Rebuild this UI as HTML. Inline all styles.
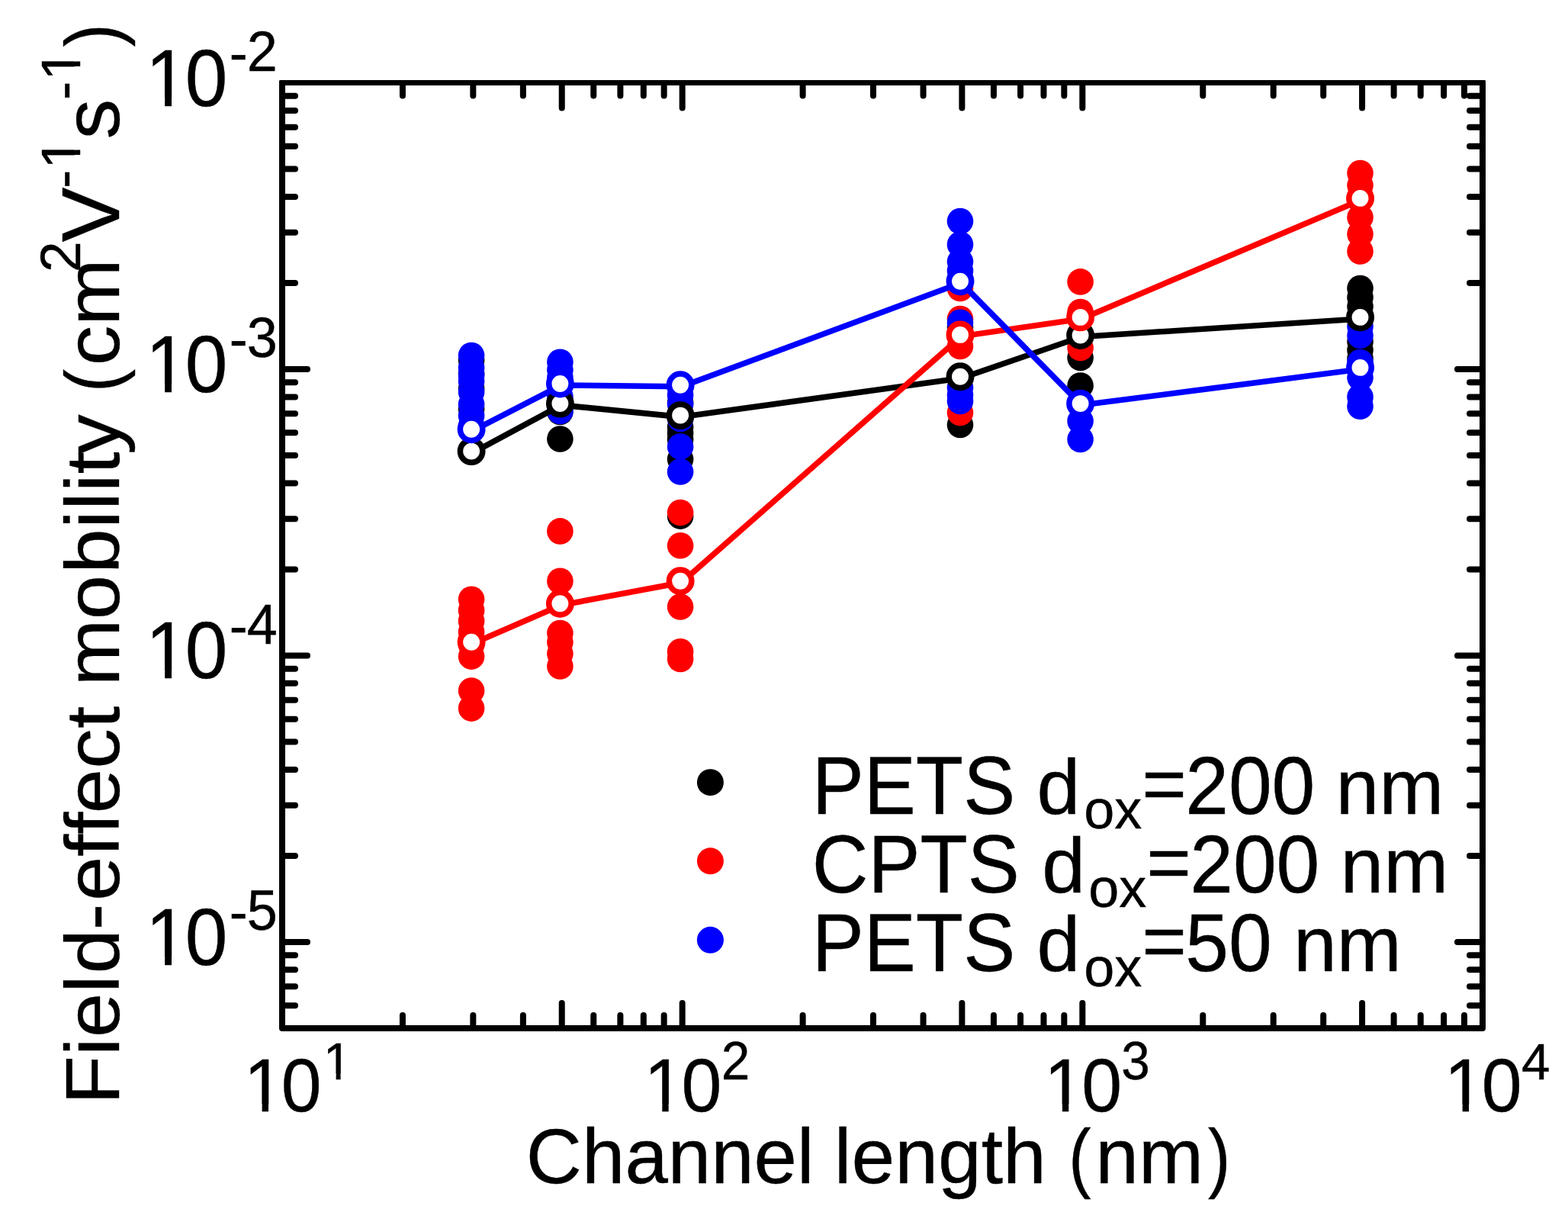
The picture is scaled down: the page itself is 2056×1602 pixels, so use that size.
<!DOCTYPE html>
<html lang="en"><head><meta charset="utf-8"><title>Field-effect mobility vs channel length</title>
<style>html,body{margin:0;padding:0;background:#fff;}svg{display:block;}text{font-family:"Liberation Sans", sans-serif;fill:#000;stroke:#000;stroke-width:0.4px;font-kerning:none;white-space:pre;}</style></head><body>
<svg width="2056" height="1602" viewBox="0 0 2056 1602" role="img" aria-label="Field-effect mobility versus channel length">
<rect x="0" y="0" width="2056" height="1602" fill="#ffffff"/>
<g stroke="#000" stroke-width="8.00" stroke-linecap="round" fill="none">
<path d="M736.73 112.50V141.50 M736.73 1344.00V1315.00"/>
<path d="M894.67 112.50V141.50 M894.67 1344.00V1315.00"/>
<path d="M1261.39 112.50V141.50 M1261.39 1344.00V1315.00"/>
<path d="M1419.33 112.50V141.50 M1419.33 1344.00V1315.00"/>
<path d="M1786.06 112.50V141.50 M1786.06 1344.00V1315.00"/>
<path d="M527.94 112.50V125.50 M527.94 1344.00V1331.00"/>
<path d="M620.33 112.50V125.50 M620.33 1344.00V1331.00"/>
<path d="M685.88 112.50V125.50 M685.88 1344.00V1331.00"/>
<path d="M778.27 112.50V125.50 M778.27 1344.00V1331.00"/>
<path d="M813.39 112.50V125.50 M813.39 1344.00V1331.00"/>
<path d="M843.82 112.50V125.50 M843.82 1344.00V1331.00"/>
<path d="M870.66 112.50V125.50 M870.66 1344.00V1331.00"/>
<path d="M1052.61 112.50V125.50 M1052.61 1344.00V1331.00"/>
<path d="M1145.00 112.50V125.50 M1145.00 1344.00V1331.00"/>
<path d="M1210.55 112.50V125.50 M1210.55 1344.00V1331.00"/>
<path d="M1302.94 112.50V125.50 M1302.94 1344.00V1331.00"/>
<path d="M1338.06 112.50V125.50 M1338.06 1344.00V1331.00"/>
<path d="M1368.49 112.50V125.50 M1368.49 1344.00V1331.00"/>
<path d="M1395.33 112.50V125.50 M1395.33 1344.00V1331.00"/>
<path d="M1577.27 112.50V125.50 M1577.27 1344.00V1331.00"/>
<path d="M1669.66 112.50V125.50 M1669.66 1344.00V1331.00"/>
<path d="M1735.21 112.50V125.50 M1735.21 1344.00V1331.00"/>
<path d="M1827.60 112.50V125.50 M1827.60 1344.00V1331.00"/>
<path d="M1862.73 112.50V125.50 M1862.73 1344.00V1331.00"/>
<path d="M1893.15 112.50V125.50 M1893.15 1344.00V1331.00"/>
<path d="M1919.99 112.50V125.50 M1919.99 1344.00V1331.00"/>
<path d="M374.00 483.99H403.00 M1940.00 483.99H1911.00"/>
<path d="M374.00 859.48H403.00 M1940.00 859.48H1911.00"/>
<path d="M374.00 1234.97H403.00 M1940.00 1234.97H1911.00"/>
<path d="M374.00 370.96H387.00 M1940.00 370.96H1927.00"/>
<path d="M374.00 304.84H387.00 M1940.00 304.84H1927.00"/>
<path d="M374.00 257.92H387.00 M1940.00 257.92H1927.00"/>
<path d="M374.00 221.53H387.00 M1940.00 221.53H1927.00"/>
<path d="M374.00 191.80H387.00 M1940.00 191.80H1927.00"/>
<path d="M374.00 166.66H387.00 M1940.00 166.66H1927.00"/>
<path d="M374.00 144.89H387.00 M1940.00 144.89H1927.00"/>
<path d="M374.00 125.68H387.00 M1940.00 125.68H1927.00"/>
<path d="M374.00 746.44H387.00 M1940.00 746.44H1927.00"/>
<path d="M374.00 680.32H387.00 M1940.00 680.32H1927.00"/>
<path d="M374.00 633.41H387.00 M1940.00 633.41H1927.00"/>
<path d="M374.00 597.02H387.00 M1940.00 597.02H1927.00"/>
<path d="M374.00 567.29H387.00 M1940.00 567.29H1927.00"/>
<path d="M374.00 542.15H387.00 M1940.00 542.15H1927.00"/>
<path d="M374.00 520.38H387.00 M1940.00 520.38H1927.00"/>
<path d="M374.00 501.17H387.00 M1940.00 501.17H1927.00"/>
<path d="M374.00 1121.93H387.00 M1940.00 1121.93H1927.00"/>
<path d="M374.00 1055.81H387.00 M1940.00 1055.81H1927.00"/>
<path d="M374.00 1008.90H387.00 M1940.00 1008.90H1927.00"/>
<path d="M374.00 972.51H387.00 M1940.00 972.51H1927.00"/>
<path d="M374.00 942.78H387.00 M1940.00 942.78H1927.00"/>
<path d="M374.00 917.64H387.00 M1940.00 917.64H1927.00"/>
<path d="M374.00 895.87H387.00 M1940.00 895.87H1927.00"/>
<path d="M374.00 876.66H387.00 M1940.00 876.66H1927.00"/>
<path d="M374.00 1318.27H387.00 M1940.00 1318.27H1927.00"/>
<path d="M374.00 1293.13H387.00 M1940.00 1293.13H1927.00"/>
<path d="M374.00 1271.36H387.00 M1940.00 1271.36H1927.00"/>
<path d="M374.00 1252.15H387.00 M1940.00 1252.15H1927.00"/>
</g>
<path d="M370.00 106.00V1348.00H1944.00V106.00" fill="none" stroke="#000" stroke-width="8" stroke-linejoin="round"/>
<path d="M366.50 108.5H1947.50" fill="none" stroke="#000" stroke-width="7"/>
<g fill="#000000">
<circle cx="618.1" cy="472.0" r="17.3"/>
<circle cx="618.1" cy="490.0" r="17.3"/>
<circle cx="618.1" cy="510.0" r="17.3"/>
<circle cx="618.1" cy="536.0" r="17.3"/>
<circle cx="734.4" cy="540.0" r="17.3"/>
<circle cx="734.4" cy="575.5" r="17.3"/>
<circle cx="892.1" cy="528.0" r="17.3"/>
<circle cx="892.1" cy="560.0" r="17.3"/>
<circle cx="892.1" cy="568.0" r="17.3"/>
<circle cx="892.1" cy="576.0" r="17.3"/>
<circle cx="892.1" cy="602.0" r="17.3"/>
<circle cx="892.1" cy="676.6" r="17.3"/>
<circle cx="1259.0" cy="428.7" r="17.3"/>
<circle cx="1259.0" cy="557.0" r="17.3"/>
<circle cx="1416.6" cy="440.0" r="17.3"/>
<circle cx="1416.6" cy="469.0" r="17.3"/>
<circle cx="1416.6" cy="505.5" r="17.3"/>
<circle cx="1783.5" cy="378.0" r="17.3"/>
<circle cx="1783.5" cy="390.0" r="17.3"/>
<circle cx="1783.5" cy="402.0" r="17.3"/>
<circle cx="1783.5" cy="414.0" r="17.3"/>
<circle cx="1783.5" cy="448.0" r="17.3"/>
<circle cx="1783.5" cy="459.0" r="17.3"/>
<circle cx="1783.5" cy="470.0" r="17.3"/>
</g>
<g fill="#ff0000">
<circle cx="618.1" cy="785.7" r="17.3"/>
<circle cx="618.1" cy="800.2" r="17.3"/>
<circle cx="618.1" cy="814.2" r="17.3"/>
<circle cx="618.1" cy="828.4" r="17.3"/>
<circle cx="618.1" cy="845.0" r="17.3"/>
<circle cx="618.1" cy="860.6" r="17.3"/>
<circle cx="618.1" cy="905.5" r="17.3"/>
<circle cx="618.1" cy="928.6" r="17.3"/>
<circle cx="734.4" cy="696.4" r="17.3"/>
<circle cx="734.4" cy="761.8" r="17.3"/>
<circle cx="734.4" cy="830.0" r="17.3"/>
<circle cx="734.4" cy="842.0" r="17.3"/>
<circle cx="734.4" cy="857.0" r="17.3"/>
<circle cx="734.4" cy="873.4" r="17.3"/>
<circle cx="892.1" cy="672.0" r="17.3"/>
<circle cx="892.1" cy="715.3" r="17.3"/>
<circle cx="892.1" cy="795.5" r="17.3"/>
<circle cx="892.1" cy="854.2" r="17.3"/>
<circle cx="892.1" cy="864.0" r="17.3"/>
<circle cx="1259.0" cy="378.0" r="17.3"/>
<circle cx="1259.0" cy="418.0" r="17.3"/>
<circle cx="1259.0" cy="454.0" r="17.3"/>
<circle cx="1259.0" cy="541.0" r="17.3"/>
<circle cx="1416.6" cy="369.4" r="17.3"/>
<circle cx="1416.6" cy="409.0" r="17.3"/>
<circle cx="1416.6" cy="456.0" r="17.3"/>
<circle cx="1783.5" cy="227.0" r="17.3"/>
<circle cx="1783.5" cy="243.0" r="17.3"/>
<circle cx="1783.5" cy="260.0" r="17.3"/>
<circle cx="1783.5" cy="284.9" r="17.3"/>
<circle cx="1783.5" cy="306.8" r="17.3"/>
<circle cx="1783.5" cy="329.5" r="17.3"/>
</g>
<g fill="#0000ff">
<circle cx="618.1" cy="466.0" r="17.3"/>
<circle cx="618.1" cy="482.0" r="17.3"/>
<circle cx="618.1" cy="492.0" r="17.3"/>
<circle cx="618.1" cy="500.0" r="17.3"/>
<circle cx="618.1" cy="514.0" r="17.3"/>
<circle cx="618.1" cy="530.0" r="17.3"/>
<circle cx="618.1" cy="545.0" r="17.3"/>
<circle cx="618.1" cy="558.0" r="17.3"/>
<circle cx="734.4" cy="474.7" r="17.3"/>
<circle cx="734.4" cy="485.0" r="17.3"/>
<circle cx="734.4" cy="495.0" r="17.3"/>
<circle cx="734.4" cy="505.0" r="17.3"/>
<circle cx="734.4" cy="520.0" r="17.3"/>
<circle cx="734.4" cy="539.0" r="17.3"/>
<circle cx="892.1" cy="518.0" r="17.3"/>
<circle cx="892.1" cy="530.0" r="17.3"/>
<circle cx="892.1" cy="549.0" r="17.3"/>
<circle cx="892.1" cy="585.5" r="17.3"/>
<circle cx="892.1" cy="618.5" r="17.3"/>
<circle cx="1259.0" cy="290.0" r="17.3"/>
<circle cx="1259.0" cy="320.6" r="17.3"/>
<circle cx="1259.0" cy="343.0" r="17.3"/>
<circle cx="1259.0" cy="355.0" r="17.3"/>
<circle cx="1259.0" cy="366.0" r="17.3"/>
<circle cx="1259.0" cy="422.8" r="17.3"/>
<circle cx="1259.0" cy="508.0" r="17.3"/>
<circle cx="1259.0" cy="518.0" r="17.3"/>
<circle cx="1259.0" cy="526.0" r="17.3"/>
<circle cx="1416.6" cy="552.0" r="17.3"/>
<circle cx="1416.6" cy="576.0" r="17.3"/>
<circle cx="1783.5" cy="428.0" r="17.3"/>
<circle cx="1783.5" cy="439.8" r="17.3"/>
<circle cx="1783.5" cy="475.0" r="17.3"/>
<circle cx="1783.5" cy="494.9" r="17.3"/>
<circle cx="1783.5" cy="520.4" r="17.3"/>
<circle cx="1783.5" cy="532.7" r="17.3"/>
</g>
<polyline points="619.6,593.6 735.9,531.1 893.6,546.6 1260.5,495.8 1418.1,441.5 1785.0,417.9" fill="none" stroke="#000000" stroke-width="7.6" stroke-linejoin="round"/>
<g fill="#fff" stroke="#000000" stroke-width="7.5">
<circle cx="618.1" cy="591.6" r="14.7"/>
<circle cx="734.4" cy="529.1" r="14.7"/>
<circle cx="892.1" cy="544.6" r="14.7"/>
<circle cx="1259.0" cy="493.8" r="14.7"/>
<circle cx="1416.6" cy="439.5" r="14.7"/>
<circle cx="1783.5" cy="415.9" r="14.7"/>
</g>
<polyline points="619.6,843.8 735.9,793.3 893.6,763.7 1260.5,440.9 1418.1,417.9 1785.0,261.9" fill="none" stroke="#ff0000" stroke-width="7.6" stroke-linejoin="round"/>
<g fill="#fff" stroke="#ff0000" stroke-width="7.5">
<circle cx="618.1" cy="841.8" r="14.7"/>
<circle cx="734.4" cy="791.3" r="14.7"/>
<circle cx="892.1" cy="761.7" r="14.7"/>
<circle cx="1259.0" cy="438.9" r="14.7"/>
<circle cx="1416.6" cy="415.9" r="14.7"/>
<circle cx="1783.5" cy="259.9" r="14.7"/>
</g>
<polyline points="619.6,564.8 735.9,505.0 893.6,506.8 1260.5,370.8 1418.1,531.1 1785.0,483.9" fill="none" stroke="#0000ff" stroke-width="7.6" stroke-linejoin="round"/>
<g fill="#fff" stroke="#0000ff" stroke-width="7.5">
<circle cx="618.1" cy="562.8" r="14.7"/>
<circle cx="734.4" cy="503.0" r="14.7"/>
<circle cx="892.1" cy="504.8" r="14.7"/>
<circle cx="1259.0" cy="368.8" r="14.7"/>
<circle cx="1416.6" cy="529.1" r="14.7"/>
<circle cx="1783.5" cy="481.9" r="14.7"/>
</g>
<circle cx="931.4" cy="1025.7" r="17.5" fill="#000000"/>
<circle cx="931.4" cy="1128.8" r="17.5" fill="#ff0000"/>
<circle cx="931.4" cy="1232.3" r="17.5" fill="#0000ff"/>
<g transform="translate(1064.80 1066.60) scale(1.0000 1.0500)"><text font-size="102.00">PETS</text></g>
<g transform="translate(1359.54 1066.60)"><text font-size="102.00">d</text></g>
<g transform="translate(1421.30 1086.20)"><text font-size="72.00">ox</text></g>
<g transform="translate(1497.20 1062.00) scale(0.9850 0.9600)"><text font-size="102.00">=</text></g>
<g transform="translate(1554.17 1066.60) scale(1.0000 1.0500)"><text font-size="102.00">200</text></g>
<g transform="translate(1751.49 1066.60)"><text font-size="102.00">nm</text></g>
<g transform="translate(1064.80 1169.80) scale(1.0000 1.0500)"><text font-size="102.00">CPTS</text></g>
<g transform="translate(1366.17 1169.80)"><text font-size="102.00">d</text></g>
<g transform="translate(1427.30 1189.40)"><text font-size="72.00">ox</text></g>
<g transform="translate(1503.20 1165.20) scale(0.9850 0.9600)"><text font-size="102.00">=</text></g>
<g transform="translate(1560.17 1169.80) scale(1.0000 1.0500)"><text font-size="102.00">200</text></g>
<g transform="translate(1757.49 1169.80)"><text font-size="102.00">nm</text></g>
<g transform="translate(1064.80 1273.00) scale(1.0000 1.0500)"><text font-size="102.00">PETS</text></g>
<g transform="translate(1359.54 1273.00)"><text font-size="102.00">d</text></g>
<g transform="translate(1421.30 1292.60)"><text font-size="72.00">ox</text></g>
<g transform="translate(1497.20 1268.40) scale(0.9850 0.9600)"><text font-size="102.00">=</text></g>
<g transform="translate(1554.17 1273.00) scale(1.0000 1.0500)"><text font-size="102.00">50</text></g>
<g transform="translate(1695.96 1273.00)"><text font-size="102.00">nm</text></g>
<g transform="translate(187.10 138.80) scale(1.0000 1.0550)"><text font-size="100.00" dx="3.91 -3.91">10</text><path fill="#fff" d="M9.02 -9.27H29.05V2.50H9.02ZM37.89 -9.27H57.14V2.50H37.89Z"/></g>
<g transform="translate(299.80 92.80) scale(1.0000 1.0300)"><text font-size="72.00" dx="1.00 -1.00" dy="2.04 -2.04">-2</text></g>
<g transform="translate(187.10 513.80) scale(1.0000 1.0550)"><text font-size="100.00" dx="3.91 -3.91">10</text><path fill="#fff" d="M9.02 -9.27H29.05V2.50H9.02ZM37.89 -9.27H57.14V2.50H37.89Z"/></g>
<g transform="translate(299.80 468.20) scale(1.0000 1.0300)"><text font-size="72.00" dx="1.00 -1.00" dy="2.04 -2.04">-3</text></g>
<g transform="translate(187.10 888.80) scale(1.0000 1.0550)"><text font-size="100.00" dx="3.91 -3.91">10</text><path fill="#fff" d="M9.02 -9.27H29.05V2.50H9.02ZM37.89 -9.27H57.14V2.50H37.89Z"/></g>
<g transform="translate(299.80 843.70) scale(1.0000 1.0300)"><text font-size="72.00" dx="1.00 -1.00" dy="2.04 -2.04">-4</text></g>
<g transform="translate(187.10 1264.80) scale(1.0000 1.0550)"><text font-size="100.00" dx="3.91 -3.91">10</text><path fill="#fff" d="M9.02 -9.27H29.05V2.50H9.02ZM37.89 -9.27H57.14V2.50H37.89Z"/></g>
<g transform="translate(299.80 1219.20) scale(1.0000 1.0300)"><text font-size="72.00" dx="1.00 -1.00" dy="2.04 -2.04">-5</text></g>
<g transform="translate(316.00 1456.90) scale(1.0000 1.0400)"><text font-size="95.00" dx="3.71 -3.71">10</text><path fill="#fff" d="M8.45 -8.90H27.60V2.50H8.45ZM36.00 -8.90H54.41V2.50H36.00Z"/></g>
<g transform="translate(421.00 1414.70) scale(1.0000 1.0150)"><text font-size="67.50" dx="2.64">1</text><path fill="#fff" d="M5.28 -6.84H19.61V2.50H5.28ZM25.58 -6.84H39.38V2.50H25.58Z"/></g>
<g transform="translate(840.67 1456.90) scale(1.0000 1.0400)"><text font-size="95.00" dx="3.71 -3.71">10</text><path fill="#fff" d="M8.45 -8.90H27.60V2.50H8.45ZM36.00 -8.90H54.41V2.50H36.00Z"/></g>
<g transform="translate(945.67 1414.70) scale(1.0000 1.0400)"><text font-size="67.50">2</text></g>
<g transform="translate(1365.33 1456.90) scale(1.0000 1.0400)"><text font-size="95.00" dx="3.71 -3.71">10</text><path fill="#fff" d="M8.45 -8.90H27.60V2.50H8.45ZM36.00 -8.90H54.41V2.50H36.00Z"/></g>
<g transform="translate(1470.33 1414.70) scale(1.0000 1.0400)"><text font-size="67.50">3</text></g>
<g transform="translate(1890.00 1456.90) scale(1.0000 1.0400)"><text font-size="95.00" dx="3.71 -3.71">10</text><path fill="#fff" d="M8.45 -8.90H27.60V2.50H8.45ZM36.00 -8.90H54.41V2.50H36.00Z"/></g>
<g transform="translate(1995.00 1414.70) scale(1.0000 0.9950)"><text font-size="67.50">4</text></g>
<g transform="translate(689.80 1550.70) scale(0.9940 1.0000)"><text font-size="102.00">Channel</text></g>
<g transform="translate(1093.83 1550.70)"><text font-size="102.00">length</text></g>
<g transform="translate(1401.15 1550.70) scale(0.8620 0.9880)"><text font-size="102.00">(</text></g>
<g transform="translate(1436.33 1550.70)"><text font-size="102.00">nm</text></g>
<g transform="translate(1584.08 1550.70) scale(0.8620 0.9880)"><text font-size="102.00">)</text></g>
<g transform="translate(156.10 1448.11) rotate(-90) scale(1.0000 0.9550)"><text font-size="105.00" dx="-0.00 -0.15 0.44 0.19 1.84 -1.25 3.14 0.00 0.00 -1.84 0.20 0.37">Field-effect</text></g>
<g transform="translate(156.10 899.27) rotate(-90) scale(1.0000 0.9550)"><text font-size="105.00" dx="-0.00 -0.50 2.25 0.45 0.72 0.52 0.01 -3.34">mobility</text></g>
<g transform="translate(156.10 514.11) rotate(-90) scale(0.8620 0.9600)"><text font-size="105.00">(</text></g>
<g transform="translate(156.10 479.26) rotate(-90) scale(1.0000 0.9550)"><text font-size="105.00">cm</text></g>
<g transform="translate(105.00 357.07) rotate(-90) scale(1.0000 1.0200)"><text font-size="73.00">2</text></g>
<g transform="translate(156.10 317.52) rotate(-90) scale(1.0300 1.0250)"><text font-size="105.00">V</text></g>
<g transform="translate(105.00 247.05) rotate(-90)"><text font-size="73.00" dx="0.00 1.35" dy="2.10 -2.10">-1</text><path fill="#fff" d="M28.72 -7.25H44.02V2.50H28.72ZM50.47 -7.25H65.20V2.50H50.47Z"/></g>
<g transform="translate(156.10 182.56) rotate(-90) scale(1.0000 0.9800)"><text font-size="105.00">s</text></g>
<g transform="translate(105.00 131.05) rotate(-90)"><text font-size="73.00" dx="0.00 1.35" dy="2.10 -2.10">-1</text><path fill="#fff" d="M28.72 -7.25H44.02V2.50H28.72ZM50.47 -7.25H65.20V2.50H50.47Z"/></g>
<g transform="translate(156.10 61.43) rotate(-90) scale(0.8620 0.9600)"><text font-size="105.00">)</text></g>
</svg></body></html>
